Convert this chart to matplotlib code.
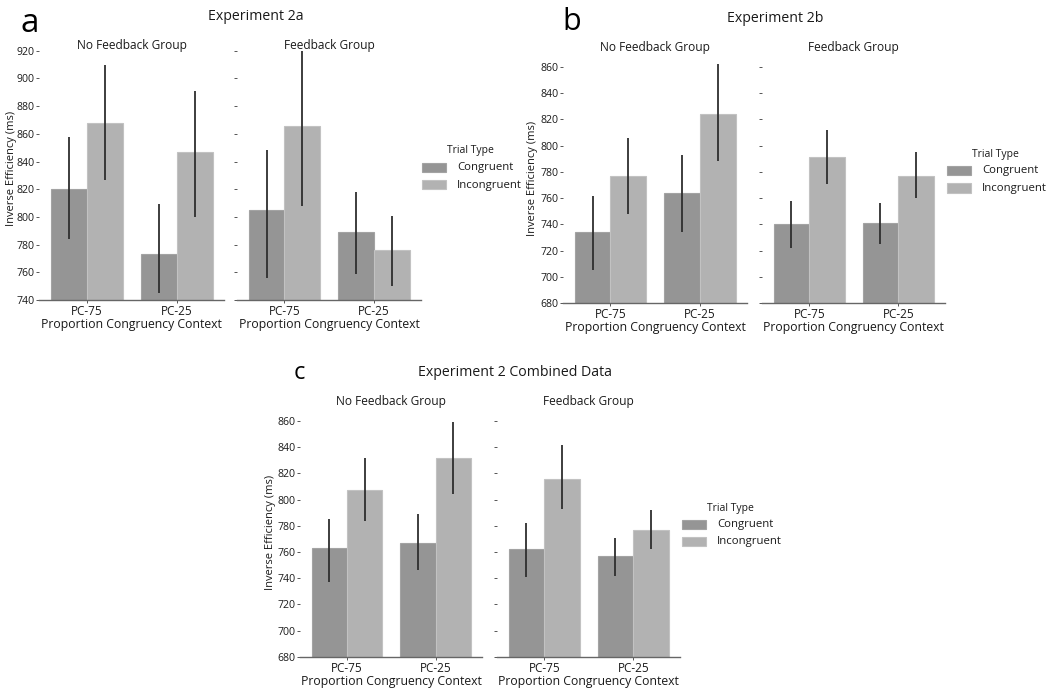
import matplotlib
matplotlib.use("Agg")
import matplotlib.pyplot as plt
from matplotlib.patches import Rectangle
import numpy as np

plt.rcParams['font.family'] = ['Open Sans', 'DejaVu Sans']

# ---------------- data ----------------
contexts = ["PC-75", "PC-25"]
trial_types = ["Congruent", "Incongruent"]
groups = ["No Feedback Group", "Feedback Group"]

# Experiment 2a
a_nofb_cong = [820, 773]
a_nofb_cong_lo = [784, 745]
a_nofb_cong_hi = [858, 809]
a_nofb_incong = [868, 847]
a_nofb_incong_lo = [827, 800]
a_nofb_incong_hi = [910, 891]
a_fb_cong = [805, 789]
a_fb_cong_lo = [756, 759]
a_fb_cong_hi = [848, 818]
a_fb_incong = [866, 776]
a_fb_incong_lo = [808, 750]
a_fb_incong_hi = [920, 801]

# Experiment 2b
b_nofb_cong = [734, 764]
b_nofb_cong_lo = [705, 734]
b_nofb_cong_hi = [762, 793]
b_nofb_incong = [777, 824]
b_nofb_incong_lo = [748, 788]
b_nofb_incong_hi = [806, 862]
b_fb_cong = [740, 741]
b_fb_cong_lo = [722, 725]
b_fb_cong_hi = [758, 756]
b_fb_incong = [791, 777]
b_fb_incong_lo = [771, 760]
b_fb_incong_hi = [812, 795]

# Experiment 2 combined
c_nofb_cong = [763, 767]
c_nofb_cong_lo = [737, 746]
c_nofb_cong_hi = [785, 789]
c_nofb_incong = [807, 832]
c_nofb_incong_lo = [784, 804]
c_nofb_incong_hi = [832, 859]
c_fb_cong = [762, 757]
c_fb_cong_lo = [741, 742]
c_fb_cong_hi = [782, 771]
c_fb_incong = [816, 777]
c_fb_incong_lo = [793, 762]
c_fb_incong_hi = [842, 792]

yticks_a = list(range(740, 921, 20))
yticks_b = list(range(680, 861, 20))
yticks_c = list(range(680, 861, 20))

# ---------------- style ----------------
W, H = 1050, 690
COL_C = "#959595"
COL_I = "#b2b2b2"
EDGE_C = "#a3a3a3"
EDGE_I = "#c2c2c2"
ERR = "#2e2e2e"
AXC = "#666666"
TXT = "#1a1a1a"

fig = plt.figure(figsize=(W / 100, H / 100), dpi=100)


def add_ax(x0, x1, ytop, ybot):
    return fig.add_axes([x0 / W, 1 - ybot / H, (x1 - x0) / W, (ybot - ytop) / H])


def draw(ax, cong, clo, chi, inc, ilo, ihi, ylim, yticks, show_labels):
    x = np.arange(len(contexts))
    w = 0.4
    ax.bar(x - w / 2, cong, width=w, color=COL_C, edgecolor=EDGE_C, linewidth=0.8, zorder=2)
    ax.bar(x + w / 2, inc, width=w, color=COL_I, edgecolor=EDGE_I, linewidth=0.8, zorder=2)
    cong = np.array(cong); inc = np.array(inc)
    ax.errorbar(x - w / 2, cong, yerr=[cong - np.array(clo), np.array(chi) - cong],
                fmt='none', ecolor=ERR, elinewidth=1.3, capsize=0, zorder=3)
    ax.errorbar(x + w / 2, inc, yerr=[inc - np.array(ilo), np.array(ihi) - inc],
                fmt='none', ecolor=ERR, elinewidth=1.3, capsize=0, zorder=3)
    ax.set_ylim(*ylim)
    ax.set_xlim(-0.53, 1.525)
    ax.set_yticks(yticks)
    ax.set_xticks(x)
    ax.set_xticklabels(contexts, fontsize=8.5, color=TXT)
    if show_labels:
        ax.set_yticklabels([str(t) for t in yticks], fontsize=7.6, color=TXT)
    else:
        ax.set_yticklabels([])
    for s in ["top", "right", "left"]:
        ax.spines[s].set_visible(False)
    ax.spines["bottom"].set_color(AXC)
    ax.spines["bottom"].set_linewidth(1.0)
    ax.tick_params(axis='y', length=2.5, width=0.7, color="#555555", pad=1)
    ax.tick_params(axis='x', length=2.5, width=0.7, color="#555555", pad=1)
    ax.set_xlabel("Proportion Congruency Context", fontsize=8.8, color=TXT, labelpad=0)
    ax.patch.set_alpha(0)


def legend(x_key, y_title, y_key1, y_key2):
    fig.text((x_key + 48) / W, 1 - y_title / H, "Trial Type", fontsize=7.5, color=TXT,
             ha='center', va='center')
    for yk, col, ec, lab in [(y_key1, COL_C, EDGE_C, trial_types[0]),
                             (y_key2, COL_I, EDGE_I, trial_types[1])]:
        fig.add_artist(Rectangle((x_key / W, 1 - (yk + 4.5) / H), 24 / W, 9 / H,
                                 transform=fig.transFigure, facecolor=col,
                                 edgecolor=ec, linewidth=0.8))
        fig.text((x_key + 35) / W, 1 - yk / H, lab, fontsize=8.2, color=TXT,
                 ha='left', va='center')


def panel(letter, letter_xy, letter_size, title, title_xy, axes_px, sub_y, ylim, yticks,
          data, ylab_xy, legend_pos):
    (x0a, x1a), (x0b, x1b), ytop, ybot = axes_px
    ax1 = add_ax(x0a, x1a, ytop, ybot)
    ax2 = add_ax(x0b, x1b, ytop, ybot)
    draw(ax1, *data[0], ylim, yticks, True)
    draw(ax2, *data[1], ylim, yticks, False)
    fig.text(letter_xy[0] / W, 1 - letter_xy[1] / H, letter, fontsize=letter_size,
             ha='left', va='center', color="#000000")
    fig.text(title_xy[0] / W, 1 - title_xy[1] / H, title, fontsize=10.2,
             ha='center', va='center', color=TXT)
    fig.text((x0a + x1a) / 2 / W, 1 - sub_y / H, groups[0], fontsize=8.6,
             ha='center', va='center', color=TXT)
    fig.text((x0b + x1b) / 2 / W, 1 - sub_y / H, groups[1], fontsize=8.6,
             ha='center', va='center', color=TXT)
    fig.text(ylab_xy[0] / W, 1 - ylab_xy[1] / H, "Inverse Efficiency (ms)", fontsize=8.0,
             rotation=90, ha='center', va='center', color=TXT)
    legend(*legend_pos)


# panel a
panel("a", (20, 24), 24, "Experiment 2a", (256, 16),
      ((39, 224), (237, 421), 45.2, 300), 45, (740, 924), yticks_a,
      [(a_nofb_cong, a_nofb_cong_lo, a_nofb_cong_hi, a_nofb_incong, a_nofb_incong_lo, a_nofb_incong_hi),
       (a_fb_cong, a_fb_cong_lo, a_fb_cong_hi, a_fb_incong, a_fb_incong_lo, a_fb_incong_hi)],
      (12, 168), (422, 151, 167.5, 185))

# panel b
panel("b", (562, 22), 22, "Experiment 2b", (775, 18),
      ((563, 747), (762, 945), 58.8, 303.3), 48, (680, 866), yticks_b,
      [(b_nofb_cong, b_nofb_cong_lo, b_nofb_cong_hi, b_nofb_incong, b_nofb_incong_lo, b_nofb_incong_hi),
       (b_fb_cong, b_fb_cong_lo, b_fb_cong_hi, b_fb_incong, b_fb_incong_lo, b_fb_incong_hi)],
      (532, 178), (947, 154, 170.5, 188))

# panel c
panel("c", (294, 373), 17, "Experiment 2 Combined Data", (515, 373),
      ((300, 482), (497, 680), 413.2, 656.7), 402, (680, 866), yticks_c,
      [(c_nofb_cong, c_nofb_cong_lo, c_nofb_cong_hi, c_nofb_incong, c_nofb_incong_lo, c_nofb_incong_hi),
       (c_fb_cong, c_fb_cong_lo, c_fb_cong_hi, c_fb_incong, c_fb_incong_lo, c_fb_incong_hi)],
      (271, 532), (682, 508, 524, 541.7))

fig.savefig("out.png", dpi=100)
